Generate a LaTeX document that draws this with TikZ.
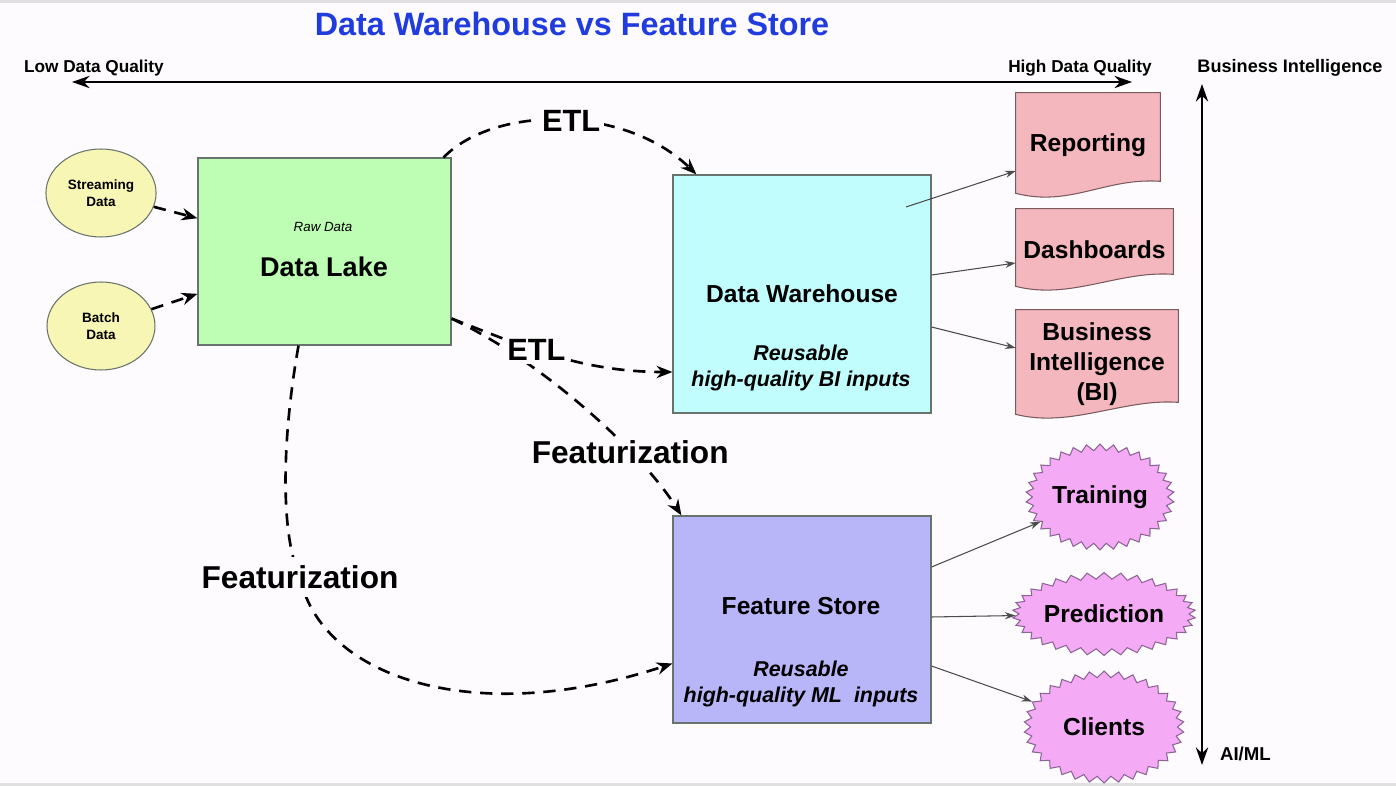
\documentclass[tikz,border=0pt]{standalone}
\usepackage{fontspec}
\setmainfont{Liberation Sans}
\usetikzlibrary{arrows.meta,shapes.geometric,shapes.symbols,calc,backgrounds}
\definecolor{bgpaper}{RGB}{253,251,253}
\definecolor{titleblue}{RGB}{32,60,222}
\definecolor{lakefill}{RGB}{190,253,180}
\definecolor{whfill}{RGB}{193,253,252}
\definecolor{fsfill}{RGB}{185,181,249}
\definecolor{docfill}{RGB}{244,183,189}
\definecolor{docline}{RGB}{120,90,95}
\definecolor{burstfill}{RGB}{244,170,245}
\definecolor{burstline}{RGB}{140,100,150}
\definecolor{srcfill}{RGB}{248,246,180}
\definecolor{edgegray}{RGB}{105,115,110}
\tikzset{
  store/.style={rectangle, draw=edgegray, line width=0.7pt, font=\bfseries\fontsize{14}{17}\selectfont},
  note/.style={align=center, font=\bfseries\itshape\fontsize{12.2}{14.8}\selectfont},
  source/.style={ellipse, draw=edgegray, fill=srcfill, line width=0.6pt, minimum width=2.16cm,
    minimum height=1.76cm, align=center, font=\bfseries\fontsize{7.7}{9.5}\selectfont},
  docnode/.style={rectangle, align=center, font=\bfseries\fontsize{14}{17}\selectfont},
  burst/.style={starburst, starburst points=34, starburst point height=0.13cm, random starburst=0,
    draw=burstline, fill=burstfill, line width=0.6pt, inner sep=0pt,
    font=\bfseries\fontsize{14}{17}\selectfont},
  flow/.style={dash pattern=on 7pt off 5pt, line width=1.5pt, -{Stealth[length=9pt,width=7pt]}},
  feed/.style={draw=black!70, line width=0.6pt, -{Stealth[length=6pt,width=4pt]}},
  axis/.style={line width=1.2pt, {Stealth[length=10pt,width=7pt]}-{Stealth[length=10pt,width=7pt]}},
  axlbl/.style={font=\bfseries\fontsize{9.8}{12}\selectfont, inner sep=1pt},
  lbl/.style={fill=bgpaper, inner sep=2pt},
}
\newcommand\drawdoc[1]{%
  \filldraw[draw=docline, fill=docfill, line width=0.6pt]
    (#1.north west) -- (#1.north east) -- ($(#1.south east)+(0,-16)$)
    .. controls +(-55,-4) and +(55,14) .. ($(#1.south west)+(0,-4)$) -- cycle;}
\begin{document}
\begin{tikzpicture}[x=0.02cm, y=-0.02cm]
  \useasboundingbox (0,0) rectangle (1396,786);
  \node[font=\bfseries\fontsize{18.4}{22}\selectfont, text=titleblue] (title) at (572,24)
    {Data Warehouse vs Feature Store};

  \coordinate (lowq) at (72,82);
  \coordinate (highq) at (1132,82);
  \coordinate (bitop) at (1202,84);
  \coordinate (aiml) at (1202,765);
  \draw[axis] (lowq) -- (highq);
  \draw[axis] (bitop) -- (aiml);
  \node[axlbl, anchor=west] (lowlbl) at (22,68) {Low Data Quality};
  \node[axlbl] (highlbl) at (1080,68) {High Data Quality};
  \node[axlbl, font=\bfseries\fontsize{10.3}{12}\selectfont] (bilbl) at (1290,68) {Business Intelligence};
  \node[axlbl, anchor=west, font=\bfseries\fontsize{10.6}{12}\selectfont] (aimllbl) at (1218,754) {AI/ML};

  \node[source] (stream) at (101,193) {Streaming\\Data};
  \node[source] (batch) at (101,326) {Batch\\Data};

  \node[store, fill=lakefill, minimum width=5.06cm, minimum height=3.74cm] (lake) at (324.5,251.5) {};
  \node[font=\itshape\fontsize{7.6}{9}\selectfont] (rawdata) at (323,227) {Raw Data};
  \node[font=\bfseries\fontsize{15.4}{18}\selectfont] (lakename) at (324,267) {Data Lake};

  \node[store, fill=whfill, minimum width=5.16cm, minimum height=4.76cm] (dw) at (802,294) {Data Warehouse};
  \node[note] (dwnote) at (801,368) {Reusable\\high-quality BI inputs};

  \node[store, fill=fsfill, minimum width=5.16cm, minimum height=4.14cm] (fs) at (802,619.5) {};
  \node[font=\bfseries\fontsize{14}{17}\selectfont] (fsname) at (801,606) {Feature Store};
  \node[note] (fsnote) at (801,684) {Reusable\\high-quality ML~ inputs};

  \node[docnode, minimum width=2.88cm, minimum height=2.08cm] (rep) at (1088,145) {Reporting};
  \node[docnode, minimum width=3.14cm, minimum height=1.62cm] (dash) at (1094.5,249.5) {Dashboards};
  \node[docnode, minimum width=3.24cm, minimum height=2.16cm] (bi) at (1097,364) {Business\\Intelligence\\(BI)};

  \node[burst, minimum width=2.8cm, minimum height=2.12cm] (train) at (1100,497) {Training};
  \node[burst, minimum width=3.26cm, minimum height=1.66cm] (pred) at (1104,614) {Prediction};
  \node[burst, minimum width=3.2cm, minimum height=2.24cm] (client) at (1104,727) {Clients};

  \draw[flow] (stream) -- (lake);
  \draw[flow] (batch) -- (lake);
  \draw[flow] ($(lake.north east)+(-8,0)$) .. controls (495,105) and (625,105) .. ($(dw.north west)+(24,0)$)
    node[lbl, pos=0.53, font=\bfseries\fontsize{17.5}{20}\selectfont] {ETL};
  \draw[flow] ($(lake.south east)+(0,-27)$) .. controls (540,360) and (640,450) .. ($(fs.north west)+(9,0)$)
    node[lbl, pos=0.7, font=\bfseries\fontsize{18}{22}\selectfont] {Featurization};
  \draw[flow] ($(lake.south east)+(0,-27)$) .. controls (520,345) and (580,372) .. ($(dw.west)+(0,78)$)
    node[lbl, pos=0.42, font=\bfseries\fontsize{17.5}{20}\selectfont] {ETL};
  \draw[flow] ($(lake.south)+(-26,0)$) .. controls (280,450) and (282,540) .. (300,577)
    node[lbl, inner sep=5pt, font=\bfseries\fontsize{18}{22}\selectfont] {Featurization}
    .. controls (320,675) and (470,730) .. ($(fs.west)+(0,44)$);

  \coordinate (dwtap) at (906,207);
  \draw[feed] (dwtap) -- ($(rep.west)+(0,26)$);
  \draw[feed] ($(dw.east)+(0,-19)$) -- ($(dash.west)+(0,13.5)$);
  \draw[feed] ($(dw.east)+(0,33)$) -- ($(bi.west)+(0,-16)$);
  \draw[feed] ($(fs.east)+(0,-52.5)$) -- (train);
  \draw[feed] ($(fs.east)+(0,-2.5)$) -- (pred);
  \draw[feed] ($(fs.east)+(0,46.5)$) -- (client);

  \begin{scope}[on background layer]
    \fill[bgpaper] (0,0) rectangle (1396,786);
    \fill[black!12] (0,0) rectangle (1396,3);
    \fill[black!12] (0,783) rectangle (1396,786);
    \drawdoc{rep}
    \drawdoc{dash}
    \drawdoc{bi}
  \end{scope}
\end{tikzpicture}
\end{document}
